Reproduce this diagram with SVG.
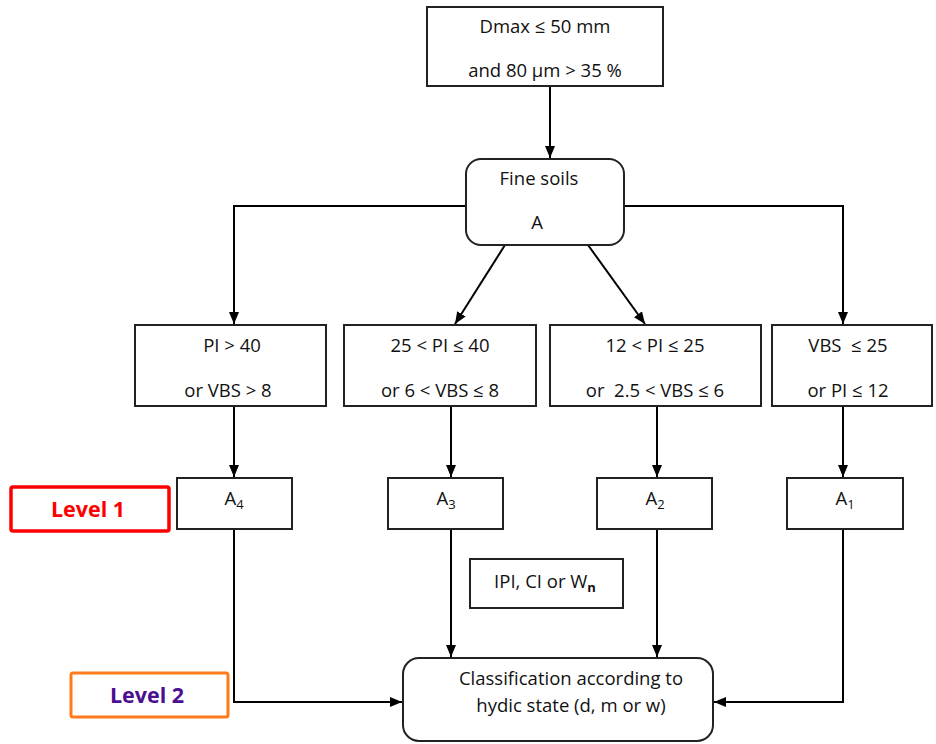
<svg xmlns="http://www.w3.org/2000/svg" width="936" height="744" viewBox="0 0 936 744">
<defs>
<marker id="ah" viewBox="0 0 12 10" refX="12" refY="5" markerWidth="12" markerHeight="10" markerUnits="userSpaceOnUse" orient="auto">
<path d="M0,0 L12,5 L0,10 z" fill="#000"/>
</marker>
<style>
.box{fill:#fff;stroke:#222;stroke-width:2}
.t{font-family:"Open Sans","Liberation Sans",sans-serif;font-size:18.5px;fill:#111;text-anchor:middle}
.c{fill:none;stroke:#000;stroke-width:2}
.lv{font-family:"Open Sans","Liberation Sans",sans-serif;font-size:21.5px;font-weight:bold;text-anchor:middle}
</style>
</defs>
<rect width="936" height="744" fill="#fff"/>
<g id="connectors">
<path class="c" d="M550,86 V158" marker-end="url(#ah)"/>
<path class="c" d="M466,206 H234 V324" marker-end="url(#ah)"/>
<path class="c" d="M624,206 H843 V324" marker-end="url(#ah)"/>
<path class="c" d="M505,245 L455,324" marker-end="url(#ah)"/>
<path class="c" d="M588,245 L645,324" marker-end="url(#ah)"/>
<path class="c" d="M234,406 V477" marker-end="url(#ah)"/>
<path class="c" d="M451,406 V477" marker-end="url(#ah)"/>
<path class="c" d="M657,406 V477" marker-end="url(#ah)"/>
<path class="c" d="M843,406 V477" marker-end="url(#ah)"/>
<path class="c" d="M234,529 V702 H402" marker-end="url(#ah)"/>
<path class="c" d="M451,529 V657" marker-end="url(#ah)"/>
<path class="c" d="M657,529 V657" marker-end="url(#ah)"/>
<path class="c" d="M843,529 V702 H714" marker-end="url(#ah)"/>
</g>
<g id="n-top">
<rect class="box" x="427" y="7" width="236" height="79"/>
<text class="t" x="545" y="33">Dmax ≤ 50 mm</text>
<text class="t" x="545" y="77">and 80 µm &gt; 35 %</text>
</g>
<g id="n-fine">
<rect class="box" x="466" y="159" width="158" height="86" rx="15"/>
<text class="t" x="539" y="185">Fine soils</text>
<text class="t" x="537" y="229">A</text>
</g>
<g id="n-c4">
<rect class="box" x="135" y="325" width="191" height="81"/>
<text class="t" x="232" y="352">PI &gt; 40</text>
<text class="t" x="228" y="397">or VBS &gt; 8</text>
</g>
<g id="n-c3">
<rect class="box" x="344" y="325" width="192" height="81"/>
<text class="t" x="440" y="352">25 &lt; PI ≤ 40</text>
<text class="t" x="440" y="397">or 6 &lt; VBS ≤ 8</text>
</g>
<g id="n-c2">
<rect class="box" x="550" y="325" width="211" height="81"/>
<text class="t" x="655" y="352">12 &lt; PI ≤ 25</text>
<text class="t" x="655" y="397">or &#160;2.5 &lt; VBS ≤ 6</text>
</g>
<g id="n-c1">
<rect class="box" x="772" y="325" width="160" height="81"/>
<text class="t" x="848" y="352">VBS &#160;≤ 25</text>
<text class="t" x="848" y="397">or PI ≤ 12</text>
</g>
<g id="n-a4">
<rect class="box" x="177" y="478" width="115" height="51"/>
<text class="t" x="234" y="505">A<tspan font-size="13" dy="4">4</tspan></text>
</g>
<g id="n-a3">
<rect class="box" x="388" y="478" width="115" height="51"/>
<text class="t" x="446" y="505">A<tspan font-size="13" dy="4">3</tspan></text>
</g>
<g id="n-a2">
<rect class="box" x="597" y="478" width="115" height="51"/>
<text class="t" x="655" y="505">A<tspan font-size="13" dy="4">2</tspan></text>
</g>
<g id="n-a1">
<rect class="box" x="787" y="478" width="116" height="51"/>
<text class="t" x="845" y="505">A<tspan font-size="13" dy="4">1</tspan></text>
</g>
<g id="n-ipi">
<rect class="box" x="470" y="559" width="153" height="49"/>
<text class="t" x="545" y="588">IPI, CI or W<tspan font-size="13" font-weight="bold" dy="4">n</tspan></text>
</g>
<g id="n-class">
<rect class="box" x="403" y="658" width="310" height="83" rx="16"/>
<text class="t" x="571" y="685">Classification according to</text>
<text class="t" x="571" y="712">hydic state (d, m or w)</text>
</g>
<g id="n-level1">
<rect x="11" y="487" width="158" height="44" rx="2" fill="#fff" stroke="#ff0000" stroke-width="3.5"/>
<text class="lv" x="88" y="517" fill="#ff0000">Level 1</text>
</g>
<g id="n-level2">
<rect x="71" y="673" width="157" height="44" rx="2" fill="#fff" stroke="#ff7a1a" stroke-width="3"/>
<text class="lv" x="147" y="703" fill="#4b0f8f">Level 2</text>
</g>
</svg>
